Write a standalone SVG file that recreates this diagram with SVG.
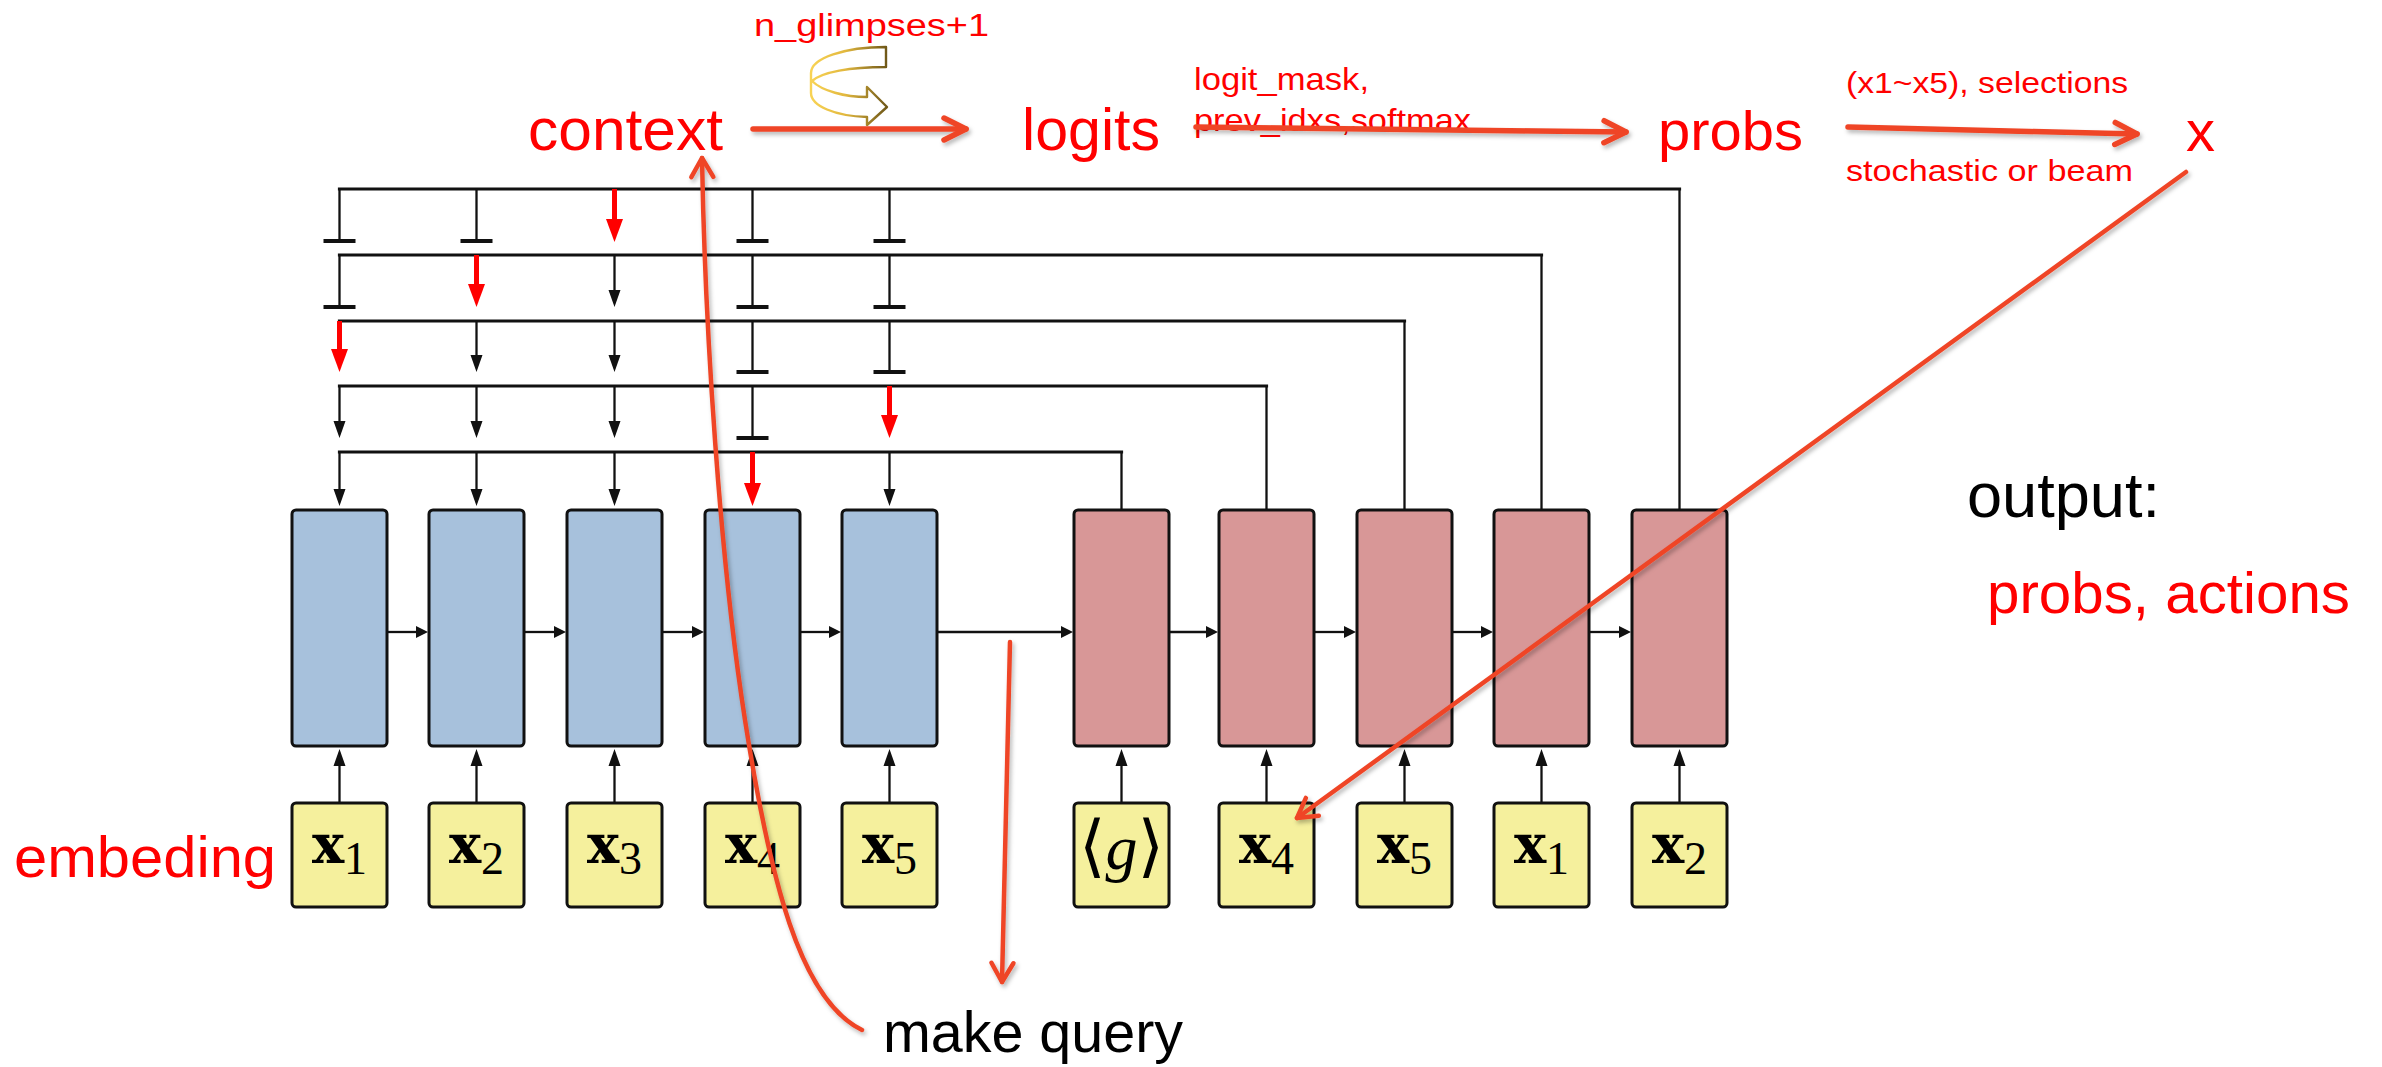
<svg xmlns="http://www.w3.org/2000/svg" width="2382" height="1067" viewBox="0 0 2382 1067">
  <style>
    .t { font-family: "Liberation Sans", Arial, sans-serif; }
    .red { fill: #FF0000; }
    .blk { fill: #000000; }
    .box { stroke: #111; stroke-width: 3; }
    .blue { fill: #A7C1DC; }
    .rose { fill: #D89797; }
    .yel { fill: #F5F09D; }
    .bus { stroke: #111; stroke-width: 3.2; fill: none; stroke-linecap: square; }
    .wire { stroke: #111; stroke-width: 2.3; fill: none; }
    .tee { stroke: #111; stroke-width: 4; }
    .rw { stroke: #FF0000; stroke-width: 5; fill: none; }
    .ann { stroke: #EF4526; fill: none; stroke-linecap: round; }
    .bx { font-family: "DejaVu Serif", "Liberation Serif", serif; font-weight: bold; font-size: 54px; }
    .sub { font-family: "Liberation Serif", "DejaVu Serif", serif; font-size: 46px; }
    .ang { font-family: "DejaVu Serif", "DejaVu Sans", serif; font-size: 68px; }
    .gi { font-family: "Liberation Serif", serif; font-style: italic; font-size: 64px; }
  </style>
  <defs>
    <marker id="ah" markerUnits="userSpaceOnUse" viewBox="0 -7 18 14" markerWidth="18" markerHeight="14" refX="1" refY="0" orient="auto">
      <path d="M0,-6 L17,0 L0,6 Z" fill="#111"/>
    </marker>
    <marker id="ahs" markerUnits="userSpaceOnUse" viewBox="0 -7 13 14" markerWidth="13" markerHeight="14" refX="1" refY="0" orient="auto">
      <path d="M0,-6 L12,0 L0,6 Z" fill="#111"/>
    </marker>
    <marker id="rah" markerUnits="userSpaceOnUse" viewBox="0 -9 24 18" markerWidth="24" markerHeight="18" refX="1" refY="0" orient="auto">
      <path d="M0,-8.5 L23,0 L0,8.5 Z" fill="#FF0000"/>
    </marker>
    <marker id="chev" markerUnits="userSpaceOnUse" viewBox="-28 -16 32 32" markerWidth="32" markerHeight="32" refX="0" refY="0" orient="auto" overflow="visible">
      <path d="M-22,-11 L0,0 L-22,11" fill="none" stroke="#EF4526" stroke-width="5.5" stroke-linecap="round" stroke-linejoin="round"/>
    </marker>
    <marker id="chev2" markerUnits="userSpaceOnUse" viewBox="-26 -15 30 30" markerWidth="30" markerHeight="30" refX="0" refY="0" orient="auto" overflow="visible">
      <path d="M-19,-11 L0,0 L-19,11" fill="none" stroke="#EF4526" stroke-width="4.5" stroke-linecap="round" stroke-linejoin="round"/>
    </marker>
    <linearGradient id="loopGrad" x1="0" y1="0" x2="1" y2="0">
      <stop offset="0" stop-color="#F8D355"/>
      <stop offset="0.45" stop-color="#E2B83E"/>
      <stop offset="1" stop-color="#6E5718"/>
    </linearGradient>
    <filter id="sh" filterUnits="userSpaceOnUse" x="0" y="0" width="2382" height="1067">
      <feDropShadow dx="2" dy="3" stdDeviation="2" flood-color="#000" flood-opacity="0.28"/>
    </filter>
  </defs>

  <!-- attention / pointer wiring -->
  <g id="connectors">
    <!-- buses from decoder cells back over the encoder -->
    <path class="bus" d="M339.5,189 H1679.5"/>
    <path class="bus" d="M339.5,255 H1541.5"/>
    <path class="bus" d="M339.5,321 H1404.5"/>
    <path class="bus" d="M339.5,386 H1266.5"/>
    <path class="bus" d="M339.5,452 H1121.5"/>
    <path class="wire" d="M1679.5,189 V510 M1541.5,255 V510 M1404.5,321 V510 M1266.5,386 V510 M1121.5,452 V510"/>

    <!-- row 1 (y 189) -->
    <path class="wire" d="M339.5,189 V241 M476.5,189 V241 M752.5,189 V241 M889.5,189 V241"/>
    <path class="tee" d="M323.5,241 H355.5 M460.5,241 H492.5 M736.5,241 H768.5 M873.5,241 H905.5"/>
    <path class="rw" d="M614.5,189 V220" marker-end="url(#rah)"/>

    <!-- row 2 (y 255) -->
    <path class="wire" d="M339.5,255 V307 M752.5,255 V307 M889.5,255 V307"/>
    <path class="tee" d="M323.5,307 H355.5 M736.5,307 H768.5 M873.5,307 H905.5"/>
    <path class="rw" d="M476.5,255 V285" marker-end="url(#rah)"/>
    <path class="wire" d="M614.5,255 V291" marker-end="url(#ah)"/>

    <!-- row 3 (y 321) -->
    <path class="rw" d="M339.5,321 V350" marker-end="url(#rah)"/>
    <path class="wire" d="M476.5,321 V356" marker-end="url(#ah)"/>
    <path class="wire" d="M614.5,321 V356" marker-end="url(#ah)"/>
    <path class="wire" d="M752.5,321 V372 M889.5,321 V372"/>
    <path class="tee" d="M736.5,372 H768.5 M873.5,372 H905.5"/>

    <!-- row 4 (y 386) -->
    <path class="wire" d="M339.5,386 V422" marker-end="url(#ah)"/>
    <path class="wire" d="M476.5,386 V422" marker-end="url(#ah)"/>
    <path class="wire" d="M614.5,386 V422" marker-end="url(#ah)"/>
    <path class="wire" d="M752.5,386 V438"/>
    <path class="tee" d="M736.5,438 H768.5"/>
    <path class="rw" d="M889.5,386 V416" marker-end="url(#rah)"/>

    <!-- row 5 (y 452) -->
    <path class="wire" d="M339.5,452 V490" marker-end="url(#ah)"/>
    <path class="wire" d="M476.5,452 V490" marker-end="url(#ah)"/>
    <path class="wire" d="M614.5,452 V490" marker-end="url(#ah)"/>
    <path class="rw" d="M752.5,452 V484" marker-end="url(#rah)"/>
    <path class="wire" d="M889.5,452 V490" marker-end="url(#ah)"/>

    <!-- recurrent links -->
    <path class="wire" d="M387,632 H417" marker-end="url(#ahs)"/>
    <path class="wire" d="M524,632 H555" marker-end="url(#ahs)"/>
    <path class="wire" d="M662,632 H693" marker-end="url(#ahs)"/>
    <path class="wire" d="M800,632 H830" marker-end="url(#ahs)"/>
    <path class="wire" d="M938,632 H1062" marker-end="url(#ahs)"/>
    <path class="wire" d="M1169,632 H1207" marker-end="url(#ahs)"/>
    <path class="wire" d="M1314,632 H1345" marker-end="url(#ahs)"/>
    <path class="wire" d="M1452,632 H1482" marker-end="url(#ahs)"/>
    <path class="wire" d="M1589,632 H1620" marker-end="url(#ahs)"/>

    <!-- inputs into cells -->
    <path class="wire" d="M339.5,803 V765" marker-end="url(#ah)"/>
    <path class="wire" d="M476.5,803 V765" marker-end="url(#ah)"/>
    <path class="wire" d="M614.5,803 V765" marker-end="url(#ah)"/>
    <path class="wire" d="M752.5,803 V765" marker-end="url(#ah)"/>
    <path class="wire" d="M889.5,803 V765" marker-end="url(#ah)"/>
    <path class="wire" d="M1121.5,803 V765" marker-end="url(#ah)"/>
    <path class="wire" d="M1266.5,803 V765" marker-end="url(#ah)"/>
    <path class="wire" d="M1404.5,803 V765" marker-end="url(#ah)"/>
    <path class="wire" d="M1541.5,803 V765" marker-end="url(#ah)"/>
    <path class="wire" d="M1679.5,803 V765" marker-end="url(#ah)"/>
  </g>

  <!-- encoder cells -->
  <g id="enc1"><rect class="box blue" x="292" y="510" width="95" height="236" rx="4"/></g>
  <g id="enc2"><rect class="box blue" x="429" y="510" width="95" height="236" rx="4"/></g>
  <g id="enc3"><rect class="box blue" x="567" y="510" width="95" height="236" rx="4"/></g>
  <g id="enc4"><rect class="box blue" x="705" y="510" width="95" height="236" rx="4"/></g>
  <g id="enc5"><rect class="box blue" x="842" y="510" width="95" height="236" rx="4"/></g>

  <!-- decoder cells -->
  <g id="dec1"><rect class="box rose" x="1074" y="510" width="95" height="236" rx="4"/></g>
  <g id="dec2"><rect class="box rose" x="1219" y="510" width="95" height="236" rx="4"/></g>
  <g id="dec3"><rect class="box rose" x="1357" y="510" width="95" height="236" rx="4"/></g>
  <g id="dec4"><rect class="box rose" x="1494" y="510" width="95" height="236" rx="4"/></g>
  <g id="dec5"><rect class="box rose" x="1632" y="510" width="95" height="236" rx="4"/></g>

  <!-- encoder inputs -->
  <g id="in1"><rect class="box yel" x="292" y="803" width="95" height="104" rx="4"/>
    <text x="339.5" y="863" text-anchor="middle"><tspan class="bx">x</tspan><tspan class="sub" dy="11">1</tspan></text></g>
  <g id="in2"><rect class="box yel" x="429" y="803" width="95" height="104" rx="4"/>
    <text x="476.5" y="863" text-anchor="middle"><tspan class="bx">x</tspan><tspan class="sub" dy="11">2</tspan></text></g>
  <g id="in3"><rect class="box yel" x="567" y="803" width="95" height="104" rx="4"/>
    <text x="614.5" y="863" text-anchor="middle"><tspan class="bx">x</tspan><tspan class="sub" dy="11">3</tspan></text></g>
  <g id="in4"><rect class="box yel" x="705" y="803" width="95" height="104" rx="4"/>
    <text x="752.5" y="863" text-anchor="middle"><tspan class="bx">x</tspan><tspan class="sub" dy="11">4</tspan></text></g>
  <g id="in5"><rect class="box yel" x="842" y="803" width="95" height="104" rx="4"/>
    <text x="889.5" y="863" text-anchor="middle"><tspan class="bx">x</tspan><tspan class="sub" dy="11">5</tspan></text></g>

  <!-- decoder inputs -->
  <g id="go"><rect class="box yel" x="1074" y="803" width="95" height="104" rx="4"/>
    <text x="1121.5" y="869" text-anchor="middle"><tspan class="ang">⟨</tspan><tspan class="gi">g</tspan><tspan class="ang">⟩</tspan></text></g>
  <g id="out4"><rect class="box yel" x="1219" y="803" width="95" height="104" rx="4"/>
    <text x="1266.5" y="863" text-anchor="middle"><tspan class="bx">x</tspan><tspan class="sub" dy="11">4</tspan></text></g>
  <g id="out5"><rect class="box yel" x="1357" y="803" width="95" height="104" rx="4"/>
    <text x="1404.5" y="863" text-anchor="middle"><tspan class="bx">x</tspan><tspan class="sub" dy="11">5</tspan></text></g>
  <g id="out1"><rect class="box yel" x="1494" y="803" width="95" height="104" rx="4"/>
    <text x="1541.5" y="863" text-anchor="middle"><tspan class="bx">x</tspan><tspan class="sub" dy="11">1</tspan></text></g>
  <g id="out2"><rect class="box yel" x="1632" y="803" width="95" height="104" rx="4"/>
    <text x="1679.5" y="863" text-anchor="middle"><tspan class="bx">x</tspan><tspan class="sub" dy="11">2</tspan></text></g>

  <!-- annotation labels -->
  <g id="embeding"><text class="t red" x="14" y="877" font-size="57" textLength="262" lengthAdjust="spacingAndGlyphs">embeding</text></g>
  <g id="context"><text class="t red" x="528" y="150" font-size="60" textLength="195" lengthAdjust="spacingAndGlyphs">context</text></g>
  <g id="logits"><text class="t red" x="1022" y="150" font-size="60" textLength="138" lengthAdjust="spacingAndGlyphs">logits</text></g>
  <g id="probs"><text class="t red" x="1658" y="150" font-size="56" textLength="145" lengthAdjust="spacingAndGlyphs">probs</text></g>
  <g id="x"><text class="t red" x="2186" y="151" font-size="58">x</text></g>
  <g id="glimpses"><text class="t red" x="754" y="36" font-size="31" textLength="235" lengthAdjust="spacingAndGlyphs">n_glimpses+1</text></g>
  <g id="mask-label">
    <text class="t red" x="1194" y="90" font-size="32" textLength="175" lengthAdjust="spacingAndGlyphs">logit_mask,</text>
    <text class="t red" x="1194" y="131" font-size="32" textLength="277" lengthAdjust="spacingAndGlyphs">prev_idxs,softmax</text>
  </g>
  <g id="select-label">
    <text class="t red" x="1846" y="93" font-size="30" textLength="282" lengthAdjust="spacingAndGlyphs">(x1~x5), selections</text>
    <text class="t red" x="1846" y="181" font-size="30" textLength="287" lengthAdjust="spacingAndGlyphs">stochastic or beam</text>
  </g>
  <g id="make-query"><text class="t blk" x="883" y="1052" font-size="57" textLength="300" lengthAdjust="spacingAndGlyphs">make query</text></g>
  <g id="output">
    <text class="t blk" x="1967" y="517" font-size="63" textLength="193" lengthAdjust="spacingAndGlyphs">output:</text>
    <text class="t red" x="1987" y="613" font-size="58" textLength="363" lengthAdjust="spacingAndGlyphs">probs, actions</text>
  </g>

  <!-- glimpse loop -->
  <g id="loop">
    <path d="M886,47 L886,67 C850,67 822,72 812,81 C822,91 845,97 867,97 L867,87 L887,107 L867,125 L867,117 C835,116 811,106 811,93 L811,73 C811,58 845,47 886,47 Z" fill="#FFFFFF" stroke="url(#loopGrad)" stroke-width="2.4" stroke-linejoin="round"/>
  </g>

  <!-- flow arrows -->
  <g id="flow" filter="url(#sh)">
    <path class="ann" stroke-width="5.5" d="M753,129 L966,129" marker-end="url(#chev)"/>
    <path class="ann" stroke-width="5.5" d="M1196,127 L1626,132" marker-end="url(#chev)"/>
    <path class="ann" stroke-width="5.5" d="M1848,127 L2137,134" marker-end="url(#chev)"/>
    <path class="ann" stroke-width="4.5" d="M2186,172 L1297,818" marker-end="url(#chev2)"/>
    <path class="ann" stroke-width="4.5" d="M1010,642 L1002,982" marker-end="url(#chev2)"/>
    <path class="ann" stroke-width="4.5" d="M862,1030 C800,1000 770,880 745,720 S705,330 702,158" marker-end="url(#chev2)"/>
  </g>
</svg>
